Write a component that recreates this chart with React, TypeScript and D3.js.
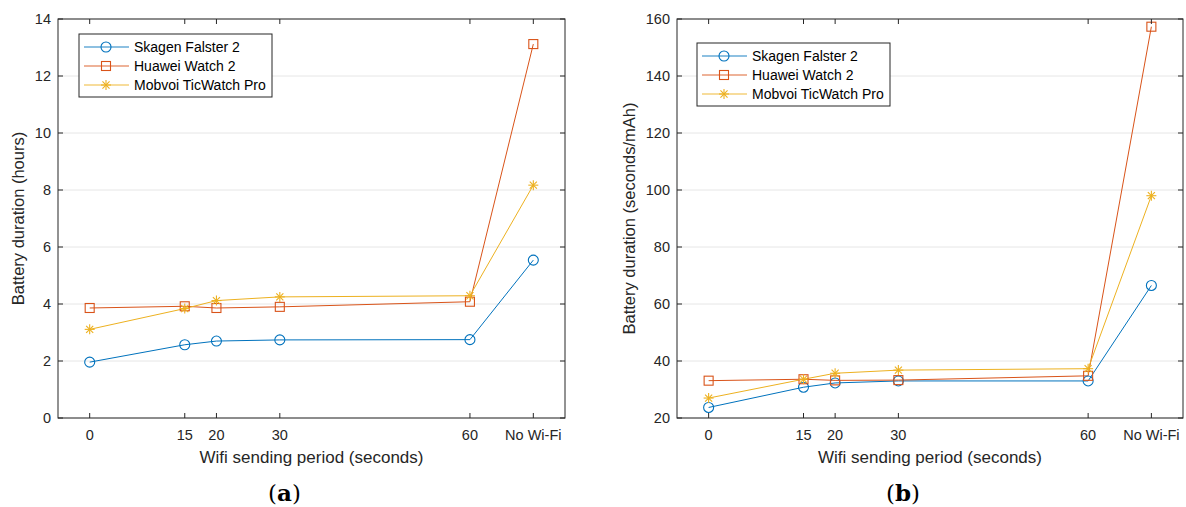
import React from "react";
import * as d3 from "d3";

const periods = [0, 15, 20, 30, 60, 70];
const periodLabels = ["0", "15", "20", "30", "60", "No Wi-Fi"];
const seriesNames = ["Skagen Falster 2", "Huawei Watch 2", "Mobvoi TicWatch Pro"];
const colors = ["#0072BD", "#D95319", "#EDB120"];
const markers = ["circle", "square", "star"];

const hoursSkagen = [1.96, 2.57, 2.7, 2.74, 2.75, 5.54];
const hoursHuawei = [3.86, 3.92, 3.86, 3.9, 4.08, 13.12];
const hoursMobvoi = [3.11, 3.84, 4.12, 4.25, 4.29, 8.17];

const effSkagen = [23.7, 30.8, 32.3, 33.0, 33.0, 66.5];
const effHuawei = [33.1, 33.6, 33.2, 33.3, 34.8, 157.3];
const effMobvoi = [27.0, 33.6, 35.7, 36.8, 37.3, 98.0];

const hoursTicks = [0, 2, 4, 6, 8, 10, 12, 14];
const effTicks = [20, 40, 60, 80, 100, 120, 140, 160];

const FONT = "'Liberation Sans', Arial, Helvetica, sans-serif";
const AX = "#262626";

function Marker({ type, x, y, color }: { type: string; x: number; y: number; color: string }) {
  if (type === "circle") return <circle cx={x} cy={y} r={5} fill="none" stroke={color} strokeWidth={1.1} />;
  if (type === "square") return <rect x={x - 4.5} y={y - 4.5} width={9} height={9} fill="none" stroke={color} strokeWidth={1.1} />;
  const r = 5;
  const segs = [0, 45, 90, 135].map((a) => {
    const rad = (a * Math.PI) / 180;
    return <line key={a} x1={x - r * Math.cos(rad)} y1={y - r * Math.sin(rad)} x2={x + r * Math.cos(rad)} y2={y + r * Math.sin(rad)} stroke={color} strokeWidth={1.1} />;
  });
  return <g>{segs}</g>;
}

function Panel(props: {
  left: number; right: number; top: number; bottom: number;
  yDomain: [number, number]; yTicks: number[]; data: number[][];
  yLabel: string; yLabelX: number; legendX: number; legendY: number; legendW: number; caption: string;
}) {
  const { left, right, top, bottom, yDomain, yTicks, data, yLabel, yLabelX, legendX, legendY, legendW, caption } = props;
  const x = d3.scaleLinear().domain([-5, 75]).range([left, right]);
  const y = d3.scaleLinear().domain(yDomain).range([bottom, top]);
  const line = d3.line<number>().x((_, i) => x(periods[i])).y((d) => y(d));
  const tl = 5;
  const midX = (left + right) / 2;
  return (
    <g fontFamily={FONT}>
      {yTicks.map((t) => (
        <line key={"g" + t} x1={left} x2={right} y1={y(t)} y2={y(t)} stroke="#e6e6e6" strokeWidth={1} />
      ))}
      {data.map((s, k) => (
        <path key={"l" + k} d={line(s) || ""} fill="none" stroke={colors[k]} strokeWidth={1} />
      ))}
      {data.map((s, k) => s.map((v, i) => <Marker key={k + "-" + i} type={markers[k]} x={x(periods[i])} y={y(v)} color={colors[k]} />))}
      <rect x={left} y={top} width={right - left} height={bottom - top} fill="none" stroke={AX} strokeWidth={1} />
      {yTicks.map((t) => (
        <g key={"t" + t}>
          <line x1={left} x2={left + tl} y1={y(t)} y2={y(t)} stroke={AX} />
          <line x1={right} x2={right - tl} y1={y(t)} y2={y(t)} stroke={AX} />
          <text x={left - 7} y={y(t)} dy="0.35em" textAnchor="end" fontSize={14.5} fill={AX}>{t}</text>
        </g>
      ))}
      {periods.map((p, i) => (
        <g key={"x" + p}>
          <line x1={x(p)} x2={x(p)} y1={bottom} y2={bottom - tl} stroke={AX} />
          <line x1={x(p)} x2={x(p)} y1={top} y2={top + tl} stroke={AX} />
          <text x={x(p)} y={bottom + 22} textAnchor="middle" fontSize={14.5} fill={AX}>{periodLabels[i]}</text>
        </g>
      ))}
      <text x={midX} y={bottom + 45} textAnchor="middle" fontSize={17} fill={AX}>Wifi sending period (seconds)</text>
      <text transform={`translate(${yLabelX},${(top + bottom) / 2}) rotate(-90)`} textAnchor="middle" fontSize={16.5} fill={AX}>{yLabel}</text>
      <g>
        <rect x={legendX} y={legendY} width={legendW} height={63} fill="#fff" stroke={AX} strokeWidth={1} />
        {seriesNames.map((n, k) => {
          const ly = legendY + 13 + k * 19;
          return (
            <g key={n}>
              <line x1={legendX + 5} x2={legendX + 50} y1={ly} y2={ly} stroke={colors[k]} strokeWidth={1.5} strokeOpacity={0.6} />
              <Marker type={markers[k]} x={legendX + 27} y={ly} color={colors[k]} />
              <text x={legendX + 55} y={ly} dy="0.35em" fontSize={14} fill="#000">{n}</text>
            </g>
          );
        })}
      </g>
      <text x={midX - 27} y={bottom + 83} textAnchor="middle" fontSize={23} fill="#000" fontFamily="'DejaVu Serif', 'Liberation Serif', serif">
        (<tspan fontWeight="bold">{caption}</tspan>)
      </text>
    </g>
  );
}

export default function App() {
  return (
    <svg width={1186} height={507} style={{ display: "block", position: "absolute", left: 0, top: 0, background: "#fff" }}>
      <rect width={1186} height={507} fill="#fff" />
      <Panel left={58} right={565} top={19} bottom={418} yDomain={[0, 14]} yTicks={hoursTicks}
        data={[hoursSkagen, hoursHuawei, hoursMobvoi]} yLabel="Battery duration (hours)" yLabelX={24}
        legendX={79} legendY={34} legendW={193} caption="a" />
      <Panel left={677} right={1183} top={19} bottom={418} yDomain={[20, 160]} yTicks={effTicks}
        data={[effSkagen, effHuawei, effMobvoi]} yLabel="Battery duration (seconds/mAh)" yLabelX={635}
        legendX={697} legendY={43} legendW={193} caption="b" />
    </svg>
  );
}
